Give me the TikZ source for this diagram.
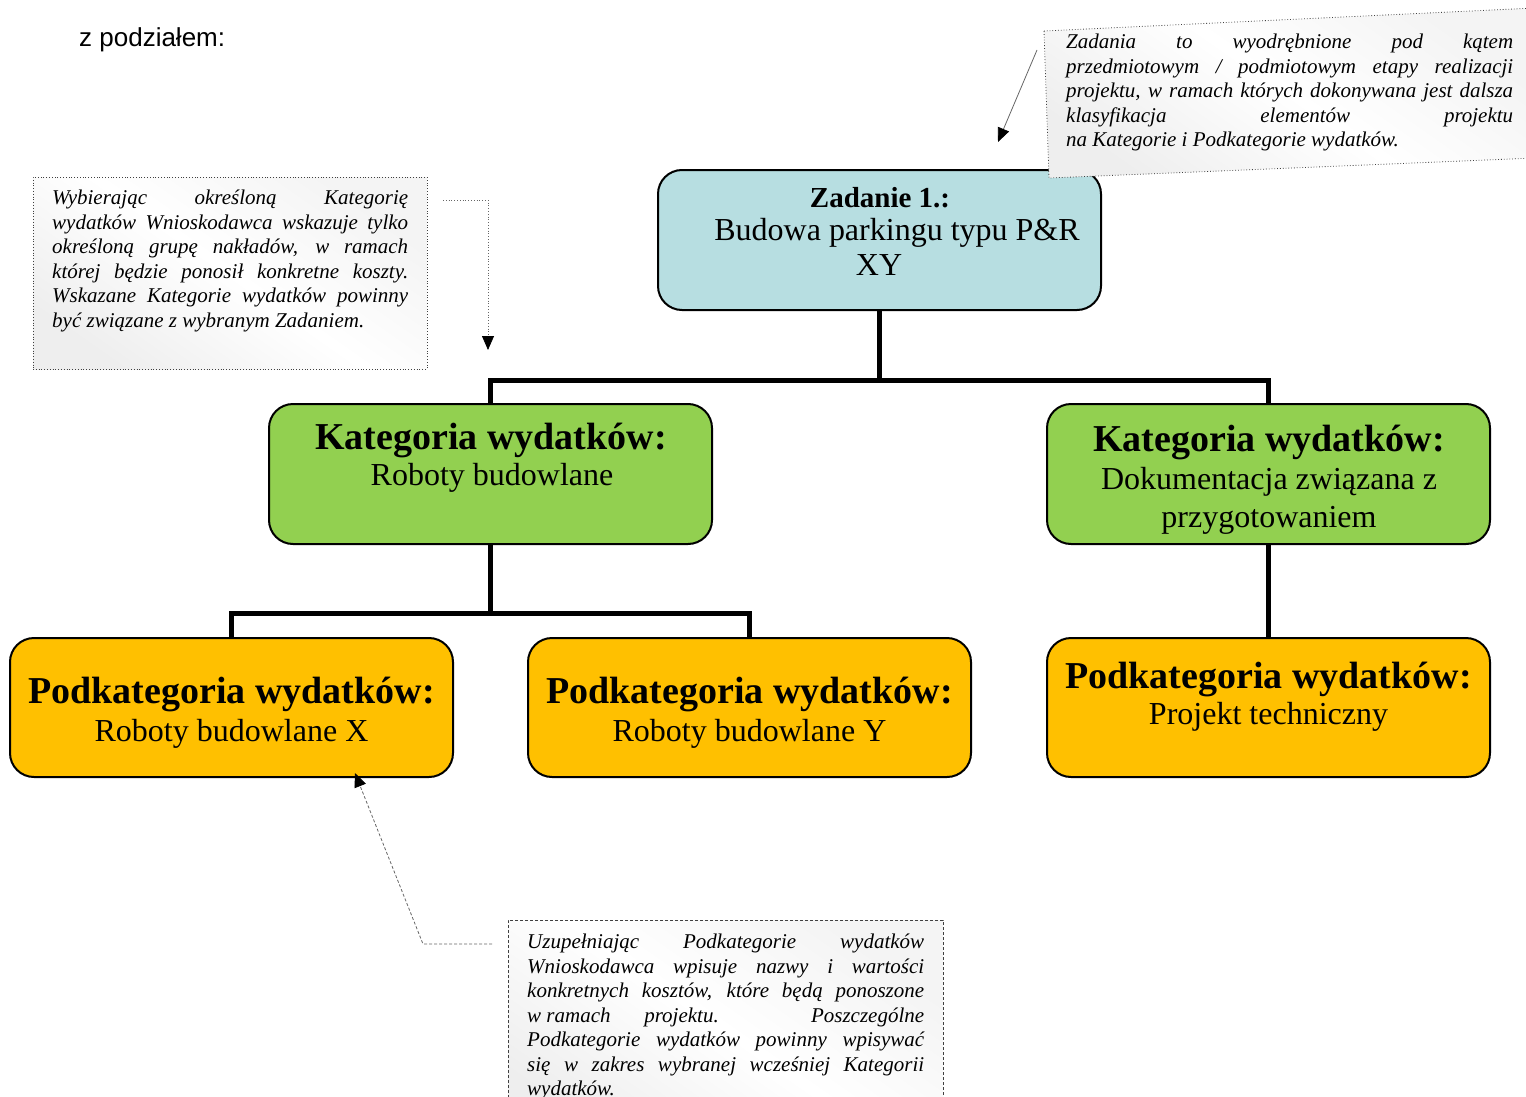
\documentclass[tikz,border=0pt]{standalone}
\usepackage{fontspec}
\setmainfont{Liberation Serif}
\newfontfamily\arialfont{Liberation Sans}
\usetikzlibrary{arrows.meta}
\definecolor{zadblue}{HTML}{B7DEE1}
\definecolor{katgreen}{HTML}{92D050}
\definecolor{podorange}{HTML}{FFC000}
\begin{document}
\begin{tikzpicture}[x=1pt,y=-1pt,
  box/.style={draw=black, line width=2pt, rounded corners=24pt, minimum width=443pt, minimum height=140pt, inner sep=0pt},
  conn/.style={line width=5pt},
  ttl/.style={font=\fontsize{38}{44}\selectfont\bfseries, anchor=base, inner sep=0pt},
  sub/.style={font=\fontsize{32}{38}\selectfont, anchor=base, inner sep=0pt},
  note/.style={font=\fontsize{21}{24.5}\selectfont\itshape, align=justify, anchor=north west, inner sep=0pt},
  notebox/.style={draw=black!75, line width=0.8pt, inner sep=0pt, top color=gray!9, bottom color=gray!13, middle color=white, shading angle=-35},
  callarrow/.style={draw=black!60, line width=0.8pt, -{Triangle[length=14pt,width=12pt,color=black]}}
]
\useasboundingbox (0,0) rectangle (1526,1097);
\begin{scope}
\clip (0,0) rectangle (1526,1097);

% heading text
\node[font=\arialfont\fontsize{26}{30}\selectfont, anchor=base west, inner sep=0pt] (zpod) at (79,47) {z podziałem:};

% main boxes
\node[box, fill=zadblue] (zad) at (879.5,240) {};
\node[box, fill=katgreen] (katL) at (490.5,474) {};
\node[box, fill=katgreen] (katR) at (1268.5,474) {};
\node[box, fill=podorange, minimum height=139pt] (pod1) at (231.5,707.5) {};
\node[box, fill=podorange, minimum height=139pt] (pod2) at (749.5,707.5) {};
\node[box, fill=podorange, minimum height=139pt] (pod3) at (1268.5,707.5) {};

% texts in boxes
\node[ttl, font=\fontsize{29}{34}\selectfont\bfseries] (zadT) at (880,207) {Zadanie 1.:};
\node[sub] (zadS1) at (897,240) {Budowa parkingu typu P\&R};
\node[sub] (zadS2) at (879,275) {XY};

\node[ttl] (katLT) at (491,449) {Kategoria wydatków:};
\node[sub] (katLS) at (492,485) {Roboty budowlane};

\node[ttl] (katRT) at (1269,451) {Kategoria wydatków:};
\node[sub] (katRS1) at (1269,489) {Dokumentacja związana z};
\node[sub] (katRS2) at (1269,527) {przygotowaniem};

\node[ttl] (pod1T) at (231.5,703) {Podkategoria wydatków:};
\node[sub] (pod1S) at (231.5,741) {Roboty budowlane X};
\node[ttl] (pod2T) at (749.5,703) {Podkategoria wydatków:};
\node[sub] (pod2S) at (749.5,741) {Roboty budowlane Y};
\node[ttl] (pod3T) at (1268.5,688) {Podkategoria wydatków:};
\node[sub] (pod3S) at (1268.5,724) {Projekt techniczny};

% tree connectors
\coordinate (bus1) at (879.5,380);
\coordinate (bus2) at (490.5,613);
\draw[conn] (zad.south) -- (bus1);
\draw[conn] (katL.north) |- (bus1) -| (katR.north);
\draw[conn] (katL.south) -- (bus2);
\draw[conn] (pod1.north) |- (bus2) -| (pod2.north);
\draw[conn] (katR.south) -- (pod3.north);

% callout top right (skewed)
\coordinate (trA) at (1044,31);
\coordinate (trB) at (1535,8);
\coordinate (trC) at (1535,158);
\coordinate (trD) at (1049,178);
\shade[top color=gray!9, bottom color=gray!13, middle color=white, shading angle=-35] (trA) -- (trB) -- (trC) -- (trD) -- cycle;
\draw[draw=black!75, line width=0.8pt, dotted] (trA) -- (trB) -- (trC) -- (trD) -- cycle;
\node[note, text width=447pt] (trTxt) at (1066,34) {Zadania to wyodrębnione pod kątem\linebreak przedmiotowym / podmiotowym etapy realizacji\linebreak projektu, w ramach których dokonywana jest dalsza\linebreak klasyfikacja elementów projektu\linebreak na Kategorie i Podkategorie wydatków.};
\coordinate (trS) at (1037,50);
\coordinate (trE) at (998,142);
\draw[callarrow] (trS) -- (trE);

% callout left
\node[notebox, dotted, minimum width=394pt, minimum height=192pt] (callL) at (230,273) {};
\node[note, text width=356pt] (callLtxt) at (52,190) {Wybierając określoną Kategorię\linebreak wydatków Wnioskodawca wskazuje tylko\linebreak określoną grupę nakładów, w ramach\linebreak której będzie ponosił konkretne koszty.\linebreak Wskazane Kategorie wydatków powinny\linebreak być związane z wybranym Zadaniem.};
\coordinate (lS) at (443,200);
\coordinate (lE) at (488,350);
\draw[callarrow, dotted] (lS) -| (lE);

% callout bottom
\node[notebox, dash pattern=on 3pt off 2pt, minimum width=435pt, minimum height=220pt] (callB) at (725.5,1030) {};
\node[note, text width=397pt] (callBtxt) at (527,934) {Uzupełniając Podkategorie wydatków\linebreak Wnioskodawca wpisuje nazwy i wartości\linebreak konkretnych kosztów, które będą ponoszone\linebreak \mbox{w ramach} projektu. Poszczególne\linebreak Podkategorie wydatków powinny wpisywać\linebreak się w zakres wybranej wcześniej Kategorii\linebreak wydatków.};
\coordinate (bS) at (492,944);
\coordinate (bM) at (423,944);
\coordinate (bE) at (355,773);
\draw[callarrow, dash pattern=on 3pt off 2pt] (bS) -- (bM) -- (bE);
\end{scope}
\end{tikzpicture}
\end{document}
